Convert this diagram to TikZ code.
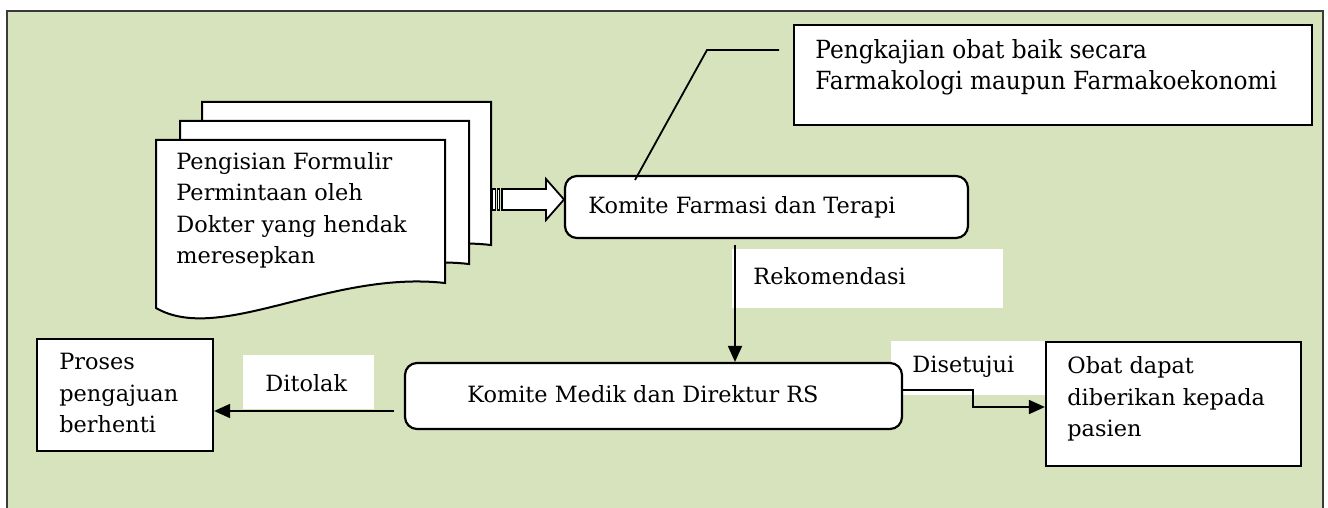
\documentclass[tikz,border=0pt]{standalone}
\usepackage{fontspec}
\setmainfont{DejaVu Serif}
\newfontfamily\notefont[FakeStretch=0.93]{DejaVu Serif}
\usetikzlibrary{arrows.meta,calc}
\definecolor{panel}{HTML}{D7E3BC}
\definecolor{rim}{HTML}{3A3A3A}
\tikzset{
  txt/.style={inner sep=0pt, anchor=west, align=left,
    font=\fontsize{11.2}{15.75}\selectfont},
  notetxt/.style={inner sep=0pt, anchor=west, align=left,
    font=\notefont\fontsize{12.5}{15.5}\selectfont},
  roundbox/.style={draw=black, fill=white, line width=1.1pt, rounded corners=6pt, inner sep=0pt},
  sqbox/.style={draw=black, fill=white, line width=1.1pt, inner sep=0pt},
  tag/.style={fill=white, inner sep=0pt},
  flow/.style={line width=0.9pt, -{Triangle[length=8pt,width=7pt]}},
  paper/.pic={
    \draw[line width=1pt, fill=white] (0,0) -- (289,0) -- (289,143)
      .. controls (174,130) and (64,205) .. (0,168) -- cycle;
  }
}
\begin{document}
\begin{tikzpicture}[x=0.5pt,y=-0.5pt]
\useasboundingbox (0,0) rectangle (1328,508);
% background panel
\draw[rim, line width=1.4pt, fill=panel] (7,11) rectangle (1323,520);

% white label patches behind the connectors
\node[tag, minimum width=135.5pt, minimum height=29.5pt] (recTag) at (867.5,278.5) {};
\node[tag, minimum width=77.5pt, minimum height=27pt] (accTag) at (968.5,368) {};
\node[tag, minimum width=65.5pt, minimum height=27pt] (rejTag) at (308.5,382) {};

% stacked request forms
\pic at (202,102) {paper};
\pic at (180,121) {paper};
\pic at (156,140) {paper};
\node[txt] (form) at (176,210.5) {Pengisian Formulir\\Permintaan oleh\\Dokter yang hendak\\meresepkan};

% striped block arrow
\draw[line width=0.8pt, fill=white] (492.5,189) rectangle (495.5,210);
\draw[line width=0.8pt, fill=white] (497.5,189) rectangle (499.5,210);
\draw[line width=0.9pt, fill=white] (502,189) -- (546,189) -- (546,179) -- (564,199.5)
  -- (546,220) -- (546,210) -- (502,210) -- cycle;

% process boxes
\node[roundbox, minimum width=201.5pt, minimum height=31pt] (farm) at (766.5,207) {};
\node[txt] (farmText) at (588,207) {Komite Farmasi dan Terapi};

\node[sqbox, minimum width=259pt, minimum height=50pt] (note) at (1053,75) {};
\node[notetxt] (noteText) at (815,67) {Pengkajian obat baik secara\\Farmakologi maupun Farmakoekonomi};

\node[roundbox, minimum width=248.5pt, minimum height=33pt] (medik) at (653.5,396) {};
\node[txt] (medikText) at (467,394) {Komite Medik dan Direktur RS};

\node[sqbox, minimum width=88pt, minimum height=56pt] (proses) at (125,395) {};
\node[txt] (prosesText) at (59,393) {Proses\\pengajuan\\berhenti};

\node[sqbox, minimum width=127.5pt, minimum height=62pt] (obat) at (1173.5,404) {};
\node[txt] (obatText) at (1067,399) {Obat dapat\\diberikan kepada\\pasien};

% label texts
\node[txt] (recText) at (753,276) {Rekomendasi};
\node[txt] (accText) at (912,367) {Disetujui};
\node[txt] (rejText) at (265,383) {Ditolak};

% callout leader
\coordinate (noteTip) at (635,180);
\coordinate (noteBend) at (707,50);
\coordinate (noteEnd) at (779,50);
\draw[line width=0.9pt] (noteTip) -- (noteBend) -- (noteEnd);

% connectors
\coordinate (recStart) at (735,245);
\draw[flow] (recStart) -- (recStart |- medik.north);

\coordinate (rejStart) at (394,411);
\draw[flow] (rejStart) -- (proses.east |- rejStart);

\coordinate (accStart) at (902,390);
\coordinate (accStep) at (973,390);
\draw[flow] (accStart) -- (accStep) -- (accStep |- 0,407) -- (obat.west |- 0,407);
\end{tikzpicture}
\end{document}
